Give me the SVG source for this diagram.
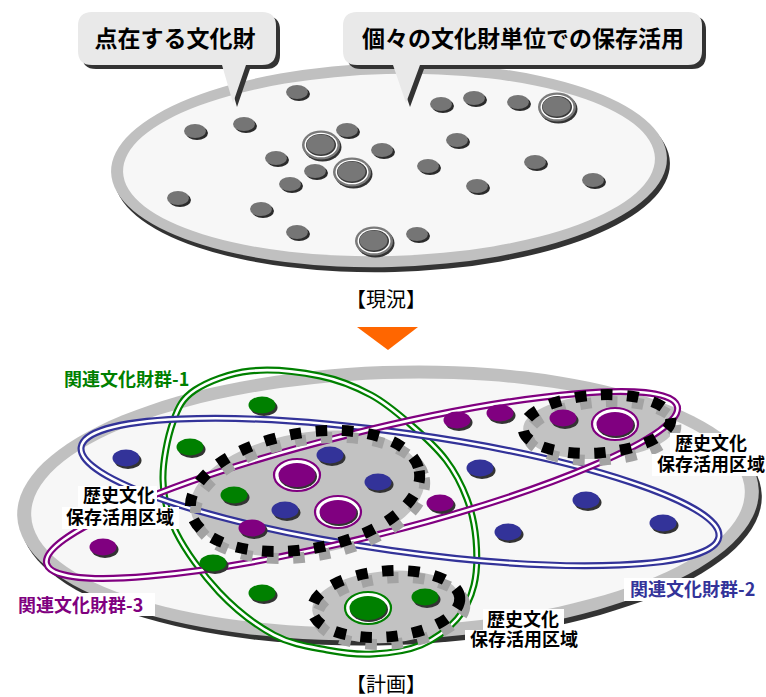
<svg xmlns="http://www.w3.org/2000/svg" width="766" height="697" viewBox="0 0 766 697">
<defs>
<style>
text { font-family: "Noto Sans CJK JP", "Noto Sans CJK SC", sans-serif; }
.t-call { font-size: 23px; font-weight: 700; fill: #000; text-anchor: middle; }
.t-cap { font-size: 20px; fill: #000; text-anchor: middle; }
.t-lbl { font-size: 18px; font-weight: 700; fill: #000; text-anchor: middle; }
.t-grp { font-size: 18px; font-weight: 700; }
.bg { fill: #fff; }
.shadow { fill: #333; }
.ring { fill: #c0c0c0; }
.face { fill: #f7f7f7; }
.callout { fill: #e9e9e9; }
.zone-fill { fill: #c2c2c2; }
.zone-dash { fill: none; stroke: #000; stroke-width: 11; stroke-dasharray: 11.5 14.5; }
.zone-dash-sh { fill: none; stroke: #a3a3a3; stroke-width: 11; stroke-dasharray: 11.5 14.5; }
.loop { fill: none; stroke-width: 7; }
.loop-w { fill: none; stroke: #fff; stroke-width: 2.6; }
.g { fill: #008000; color: #008000; }
.n { fill: #333399; color: #333399; }
.p { fill: #800080; color: #800080; }
</style>
<g id="gd"><ellipse cx="2" cy="2" rx="11" ry="7" fill="#2b2b2b"/><ellipse rx="11" ry="7" fill="#757575"/></g>
<g id="gb"><ellipse cx="1.5" cy="2" rx="19" ry="14.5" fill="#333"/><ellipse rx="19" ry="14.5" fill="#7a7a7a"/><ellipse rx="16.5" ry="12.3" fill="#fff"/><ellipse rx="15" ry="11" fill="#3a3a3a"/><ellipse cx="-0.5" cy="-0.5" rx="14" ry="10" fill="#777"/></g>
<g id="cd"><ellipse cx="2" cy="2.5" rx="13.5" ry="8.5" fill="#333"/><ellipse rx="13.5" ry="8.5"/></g>
<g id="cb"><ellipse rx="23" ry="16" fill="#fff" stroke="currentColor" stroke-width="2.2"/><ellipse cx="1" cy="1.5" rx="19" ry="12.5" fill="#333"/><ellipse rx="18.5" ry="12"/></g>
<path id="loop1" d="M250,371 C270.8,368.7 299.8,372 320,376 C340.2,380 356,387 371,395 C386,403 397.5,413.2 410,424 C422.5,434.8 436.5,447.5 446,460 C455.5,472.5 462,485.7 467,499 C472,512.3 474.8,525.7 476,540 C477.2,554.3 477.2,571.8 474,585 C470.8,598.2 465.8,609 457,619 C448.2,629 435,639.2 421,645 C407,650.8 388.7,653.2 373,654 C357.3,654.8 343.5,653.2 327,650 C310.5,646.8 292,644.7 274,635 C256,625.3 235.3,609.2 219,592 C202.7,574.8 185.3,550.7 176,532 C166.7,513.3 163.5,498.3 163,480 C162.5,461.7 167.7,437 173,422 C178.3,407 182.2,398.5 195,390 C207.8,381.5 229.2,373.3 250,371 Z"/>
</defs>

<!-- Top: current situation -->
<g id="base-current">
<ellipse class="shadow" transform="translate(392 170) rotate(-1.5)" rx="278" ry="102"/>
<ellipse class="ring" transform="translate(389 165) rotate(-1.5)" rx="278" ry="102"/>
<ellipse class="face" transform="translate(389 165) rotate(-1.5)" rx="266" ry="91"/>
</g>
<g id="dots-current">
<use href="#gd" x="297" y="92"/>
<use href="#gd" x="244" y="124"/>
<use href="#gd" x="195" y="131"/>
<use href="#gd" x="347" y="130"/>
<use href="#gd" x="276" y="158"/>
<use href="#gd" x="382" y="150"/>
<use href="#gd" x="290" y="184"/>
<use href="#gd" x="315" y="171"/>
<use href="#gd" x="428" y="166"/>
<use href="#gd" x="441" y="104"/>
<use href="#gd" x="474" y="98"/>
<use href="#gd" x="518" y="102"/>
<use href="#gd" x="457" y="140"/>
<use href="#gd" x="535" y="162"/>
<use href="#gd" x="593" y="180"/>
<use href="#gd" x="477" y="186"/>
<use href="#gd" x="178" y="198"/>
<use href="#gd" x="261" y="209"/>
<use href="#gd" x="297" y="232"/>
<use href="#gd" x="417" y="234"/>
<use href="#gb" x="321" y="145"/>
<use href="#gb" x="352" y="172"/>
<use href="#gb" x="557" y="107"/>
<use href="#gb" x="374" y="241"/>
</g>

<g id="callout-1">
<path class="shadow" transform="translate(4 4)" d="M92,12 H262 Q276,12 276,26 V51 Q276,65 262,65 H246 L233,103 L222,65 H92 Q78,65 78,51 V26 Q78,12 92,12 Z"/>
<path class="callout" d="M92,12 H262 Q276,12 276,26 V51 Q276,65 262,65 H246 L233,103 L222,65 H92 Q78,65 78,51 V26 Q78,12 92,12 Z"/>
<text class="t-call" x="175" y="47">点在する文化財</text>
</g>
<g id="callout-2">
<path class="shadow" transform="translate(4 4)" d="M357,12 H688 Q702,12 702,26 V51 Q702,65 688,65 H420 L406,103 L393,65 H357 Q343,65 343,51 V26 Q343,12 357,12 Z"/>
<path class="callout" d="M357,12 H688 Q702,12 702,26 V51 Q702,65 688,65 H420 L406,103 L393,65 H357 Q343,65 343,51 V26 Q343,12 357,12 Z"/>
<text class="t-call" x="523" y="47">個々の文化財単位での保存活用</text>
</g>

<text class="t-cap" x="386" y="307">【現況】</text>
<polygon id="arrow" points="357,327 418,327 388,350" fill="#ff6600"/>

<!-- Bottom: plan -->
<g id="base-plan">
<ellipse class="shadow" transform="translate(391 508) rotate(-2)" rx="371" ry="137"/>
<ellipse class="ring" transform="translate(388 503) rotate(-2)" rx="371" ry="137"/>
<ellipse class="face" transform="translate(388 503) rotate(-2)" rx="357" ry="124"/>
</g>

<g id="zone-areas">
<g transform="translate(305 491) rotate(-10)"><ellipse class="zone-fill" cx="4" cy="6" rx="116" ry="58"/><ellipse class="zone-fill" rx="116" ry="58"/></g>
<g transform="translate(597 424) rotate(-4)"><ellipse class="zone-fill" cx="4" cy="6" rx="74" ry="29"/><ellipse class="zone-fill" rx="74" ry="29"/></g>
<g transform="translate(386 604) rotate(-5)"><ellipse class="zone-fill" cx="4" cy="6" rx="74" ry="33"/><ellipse class="zone-fill" rx="74" ry="33"/></g>
</g>

<g id="connectors">
<g id="group-1-loop">
<use href="#loop1" class="loop" stroke="#008000"/>
<use href="#loop1" class="loop-w"/>
</g>
<g id="group-2-loop">
<ellipse class="loop" stroke="#333399" transform="translate(400 492) rotate(8)" rx="322" ry="59"/>
<ellipse class="loop-w" transform="translate(400 492) rotate(8)" rx="322" ry="59"/>
</g>
<g id="group-3-loop">
<ellipse class="loop" stroke="#800080" transform="translate(362 485) rotate(-14)" rx="325" ry="52"/>
<ellipse class="loop-w" transform="translate(362 485) rotate(-14)" rx="325" ry="52"/>
</g>
</g>

<g id="zone-center">
<ellipse class="zone-dash-sh" transform="translate(310 498) rotate(-10)" rx="116" ry="58"/>
<ellipse class="zone-dash" transform="translate(305 491) rotate(-10)" rx="116" ry="58"/>
</g>
<g id="zone-topright">
<ellipse class="zone-dash-sh" transform="translate(602 431) rotate(-4)" rx="74" ry="29"/>
<ellipse class="zone-dash" transform="translate(597 424) rotate(-4)" rx="74" ry="29"/>
</g>
<g id="zone-bottom">
<ellipse class="zone-dash-sh" transform="translate(391 611) rotate(-5)" rx="74" ry="33"/>
<ellipse class="zone-dash" transform="translate(386 604) rotate(-5)" rx="74" ry="33"/>
</g>

<g id="dots-plan">
<use href="#cd" class="g" x="262" y="405"/>
<use href="#cd" class="g" x="190" y="447"/>
<use href="#cd" class="g" x="234" y="495"/>
<use href="#cd" class="g" x="213" y="563"/>
<use href="#cd" class="g" x="262" y="593"/>
<use href="#cd" class="g" x="425" y="597"/>
<use href="#cd" class="n" x="126" y="458"/>
<use href="#cd" class="n" x="330" y="455"/>
<use href="#cd" class="n" x="378" y="482"/>
<use href="#cd" class="n" x="285" y="510"/>
<use href="#cd" class="n" x="480" y="468"/>
<use href="#cd" class="n" x="586" y="500"/>
<use href="#cd" class="n" x="508" y="532"/>
<use href="#cd" class="n" x="663" y="523"/>
<use href="#cd" class="p" x="103" y="547"/>
<use href="#cd" class="p" x="252" y="528"/>
<use href="#cd" class="p" x="440" y="503"/>
<use href="#cd" class="p" x="457" y="420"/>
<use href="#cd" class="p" x="500" y="413"/>
<use href="#cd" class="p" x="563" y="418"/>
<use href="#cb" class="p" x="297" y="475"/>
<use href="#cb" class="p" x="338" y="512"/>
<use href="#cb" class="p" x="615" y="424"/>
<use href="#cb" class="g" x="368" y="608"/>
</g>

<g id="label-zone-left">
<rect class="bg" x="78" y="486" width="79" height="21"/>
<rect class="bg" x="62" y="507" width="117" height="22"/>
<text class="t-lbl" x="119" y="502"><tspan x="119">歴史文化</tspan><tspan x="120" dy="22">保存活用区域</tspan></text>
</g>
<g id="label-zone-topright">
<rect class="bg" x="670" y="433" width="81" height="21"/>
<rect class="bg" x="652" y="454" width="114" height="22"/>
<text class="t-lbl" x="711" y="450"><tspan x="711">歴史文化</tspan><tspan x="711" dy="21">保存活用区域</tspan></text>
</g>
<g id="label-zone-bottom">
<rect class="bg" x="483" y="609" width="81" height="21"/>
<rect class="bg" x="465" y="630" width="119" height="22"/>
<text class="t-lbl" x="523" y="626"><tspan x="523">歴史文化</tspan><tspan x="524" dy="20">保存活用区域</tspan></text>
</g>
<g id="label-group-1">
<text class="t-grp" x="64" y="386" fill="#008000">関連文化財群-1</text>
</g>
<g id="label-group-2">
<rect class="bg" x="624" y="578" width="142" height="23"/>
<text class="t-grp" x="630" y="596" fill="#333399">関連文化財群-2</text>
</g>
<g id="label-group-3">
<rect class="bg" x="13" y="593" width="142" height="23"/>
<text class="t-grp" x="18" y="612" fill="#800080">関連文化財群-3</text>
</g>

<text class="t-cap" x="386" y="692">【計画】</text>
</svg>
